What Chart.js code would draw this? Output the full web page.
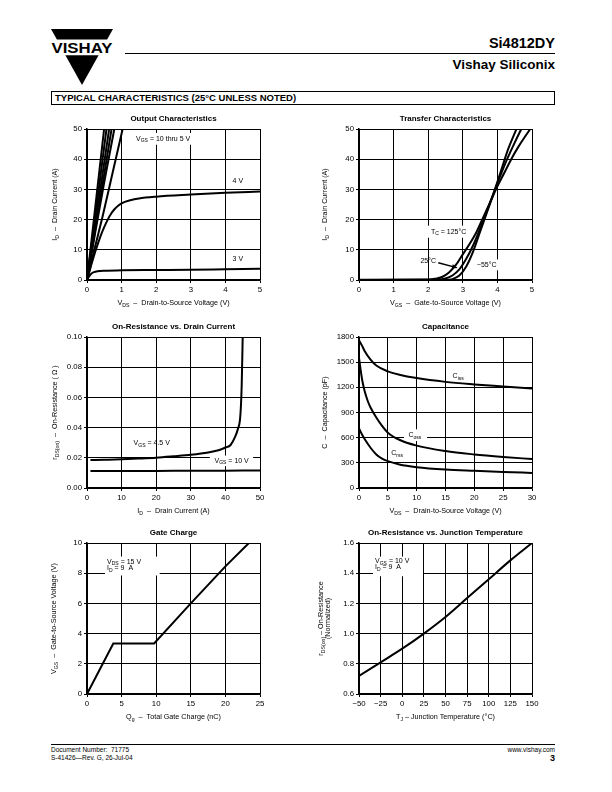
<!DOCTYPE html>
<html><head><meta charset="utf-8">
<script src="https://cdn.jsdelivr.net/npm/chart.js@4"></script>
<style>
body{margin:0;width:612px;height:792px;position:relative;background:#fff;overflow:hidden;font-family:"Liberation Sans",Arial,sans-serif;color:#000}
.abs{position:absolute}
canvas{position:absolute}
.r{position:absolute;right:57px;text-align:right;white-space:nowrap}
</style></head><body>
<svg class="abs" style="left:51px;top:29px" width="62" height="56" viewBox="0 0 62 56">
<polygon points="0,0 62,0 56.1,10.6 5.9,10.6" fill="#000"/>
<polygon points="14.4,26.2 47.6,26.2 31,56" fill="#000"/>
<text x="31" y="24" text-anchor="middle" font-family="Liberation Sans" font-weight="bold" font-size="14.5" textLength="61" lengthAdjust="spacingAndGlyphs">VISHAY</text>
</svg>
<div class="r" style="top:34px;font-weight:bold;font-size:14.5px;line-height:18px">Si4812DY</div>
<div class="abs" style="left:125px;top:53px;width:430px;height:1px;background:#000"></div>
<div class="r" style="top:57px;font-weight:bold;font-size:13.5px;line-height:16px">Vishay Siliconix</div>
<div class="abs" style="left:51px;top:91px;width:504px;height:14px;border:1px solid #000;box-sizing:border-box;font-weight:bold;font-size:9.5px;line-height:12px;padding-left:3px;white-space:nowrap">TYPICAL CHARACTERISTICS (25°C UNLESS NOTED)</div>
<div class="abs" style="left:51px;top:744px;width:504px;height:1px;background:#000"></div>
<div class="abs" style="left:51px;top:746px;font-size:6.5px;line-height:8px;white-space:nowrap">Document Number:&nbsp; 71775<br>S-41426—Rev. G, 26-Jul-04</div>
<div class="r" style="top:746px;font-size:6.5px;line-height:8px">www.vishay.com</div>
<div class="r" style="top:753px;font-size:9px;font-weight:bold;line-height:10px">3</div>
<script>
// ---------------- DATA ----------------
// Output Characteristics (VDS in V, ID in A)
const out_xticks = [0, 1, 2, 3, 4, 5];
const out_yticks = [0, 10, 20, 30, 40, 50];
const out_vds_10V = [0, 0.495]; const out_id_10V = [0, 50];
const out_vds_9V = [0, 0.563]; const out_id_9V = [0, 50];
const out_vds_8V = [0, 0.64]; const out_id_8V = [0, 50];
const out_vds_7V = [0, 0.71]; const out_id_7V = [0, 50];
const out_vds_6V = [0, 0.25, 0.5, 0.79]; const out_id_6V = [0, 16.5, 32.5, 50];
const out_vds_5V = [0, 0.2, 0.45, 0.75, 1.03]; const out_id_5V = [0, 9.5, 21, 36, 50];
const out_vds_4V = [0, 0.1, 0.2, 0.3, 0.4, 0.5, 0.6, 0.7, 0.8, 0.9, 1.0, 1.25, 1.5, 2, 3, 4, 5];
const out_id_4V = [0, 4, 8, 11.5, 14.8, 17.6, 20, 22, 23.5, 24.6, 25.4, 26.4, 27, 27.6, 28.3, 28.9, 29.3];
const out_vds_3V = [0, 0.05, 0.1, 0.15, 0.2, 0.3, 0.5, 1, 2, 3, 4, 5];
const out_id_3V = [0, 1.0, 1.8, 2.3, 2.6, 2.9, 3.1, 3.2, 3.3, 3.4, 3.55, 3.7];

// Transfer Characteristics (VGS in V, ID in A)
const tr_xticks = [0, 1, 2, 3, 4, 5];
const tr_yticks = [0, 10, 20, 30, 40, 50];
const tr_vgs_125 = [0, 2.0, 2.2, 2.4, 2.6, 2.8, 3.0, 3.2, 3.4, 3.6, 3.8, 4.0, 4.2, 4.4, 4.6, 4.8, 4.95];
const tr_id_125 = [0.1, 0.15, 0.4, 1.0, 2.5, 5, 8.5, 12, 16, 21, 26, 31, 35.5, 40, 44, 47.5, 50];
const tr_vgs_25 = [0, 2.2, 2.5, 2.7, 2.9, 3.1, 3.3, 3.5, 3.7, 3.9, 4.1, 4.3, 4.5, 4.69];
const tr_id_25 = [0, 0.05, 0.5, 1.5, 3.5, 7, 11.5, 17, 23, 29, 35, 40.5, 45.5, 50];
const tr_vgs_m55 = [0, 2.5, 2.7, 2.9, 3.1, 3.3, 3.5, 3.7, 3.9, 4.1, 4.3, 4.55];
const tr_id_m55 = [0, 0.02, 0.3, 1.5, 4.5, 9.5, 16, 22.5, 29, 36, 43, 50];

// On-Resistance vs. Drain Current (ID in A, rDS(on) in ohm)
const ron_xticks = [0, 10, 20, 30, 40, 50];
const ron_yticks = [0, 0.02, 0.04, 0.06, 0.08, 0.10];
const ron_ylabels = ['0.00', '0.02', '0.04', '0.06', '0.08', '0.10'];
const ron_id_45 = [1, 5, 10, 15, 20, 25, 30, 35, 38, 40, 41.5, 42.8, 43.6, 44.2, 44.5, 44.7, 44.85, 45.0];
const ron_r_45 = [0.0185, 0.0187, 0.019, 0.0195, 0.0201, 0.021, 0.022, 0.0235, 0.025, 0.0268, 0.0285, 0.0338, 0.039, 0.045, 0.055, 0.067, 0.083, 0.1];
const ron_id_10 = [1, 10, 20, 30, 40, 50];
const ron_r_10 = [0.0112, 0.0112, 0.0113, 0.0114, 0.0115, 0.0116];

// Capacitance (VDS in V, C in pF)
const cap_xticks = [0, 5, 10, 15, 20, 25, 30];
const cap_yticks = [0, 300, 600, 900, 1200, 1500, 1800];
const cap_vds_iss = [0, 0.5, 1, 2, 3, 5, 7, 10, 15, 20, 25, 30];
const cap_iss = [1760, 1700, 1630, 1530, 1460, 1390, 1350, 1310, 1265, 1235, 1210, 1185];
const cap_vds_oss = [0, 0.3, 0.6, 1, 1.5, 2, 3, 4, 5, 7, 10, 15, 20, 25, 30];
const cap_oss = [1550, 1400, 1270, 1150, 1040, 960, 840, 740, 660, 575, 505, 440, 400, 370, 345];
const cap_vds_rss = [0, 0.5, 1, 2, 3, 4, 5, 7, 10, 15, 20, 25, 30];
const cap_rss = [710, 640, 580, 480, 400, 350, 320, 280, 248, 220, 205, 192, 180];

// Gate Charge (Qg in nC, VGS in V)
const gc_xticks = [0, 5, 10, 15, 20, 25];
const gc_yticks = [0, 2, 4, 6, 8, 10];
const gc_qg = [0, 3.8, 9.7, 15, 20, 23.4];
const gc_vgs = [0, 3.35, 3.35, 6.0, 8.45, 10];

// On-Resistance vs. Junction Temperature (TJ in °C, normalized rDS(on))
const tj_xticks = [-50, -25, 0, 25, 50, 75, 100, 125, 150];
const tj_xlabels = ['\u221250', '\u221225', '0', '25', '50', '75', '100', '125', '150'];
const tj_yticks = [0.6, 0.8, 1.0, 1.2, 1.4, 1.6];
const tj_ylabels = ['0.6', '0.8', '1.0', '1.2', '1.4', '1.6'];
const tj_t = [-50, -25, 0, 25, 50, 75, 100, 125, 150];
const tj_rn = [0.72, 0.81, 0.9, 1.0, 1.11, 1.235, 1.36, 1.485, 1.6];

// ---------------- DRAWING ----------------
const FAM = '"Liberation Sans", Arial, sans-serif';
const DECO = {};
function pts(xs, ys) { return xs.map((x, i) => ({ x: x, y: ys[i] })); }
function parse(str) {
  const out = []; const re = /_\{([^}]*)\}/g; let last = 0, m;
  while ((m = re.exec(str))) { if (m.index > last) out.push({ t: str.slice(last, m.index) }); out.push({ t: m[1], sub: true }); last = re.lastIndex; }
  if (last < str.length) out.push({ t: str.slice(last) });
  return out;
}
function setF(ctx, size, bold) { ctx.font = (bold ? 'bold ' : '') + size + 'px ' + FAM; }
function richW(ctx, segs, size, bold) { let w = 0; for (const s of segs) { setF(ctx, s.sub ? size * 0.72 : size, bold); w += ctx.measureText(s.t).width; } return w; }
function drawRich(ctx, str, x, y, size, align, bold) {
  const segs = parse(str);
  ctx.save(); ctx.fillStyle = '#000'; ctx.textBaseline = 'middle'; ctx.textAlign = 'left';
  const w = richW(ctx, segs, size, bold);
  let cx = align === 'left' ? x : x - w / 2;
  for (const s of segs) { setF(ctx, s.sub ? size * 0.72 : size, bold); ctx.fillText(s.t, cx, s.sub ? y + size * 0.32 : y); cx += ctx.measureText(s.t).width; }
  ctx.restore();
}
const decoPlugin = {
  id: 'deco',
  beforeDatasetsDraw(chart) {
    const d = DECO[chart.canvas.id]; if (!d) return;
    const ctx = chart.ctx, xs = chart.scales.x, ys = chart.scales.y;
    ctx.save(); ctx.fillStyle = '#fff';
    for (const b of (d.boxes || [])) {
      const x1 = xs.getPixelForValue(b[0]), x2 = xs.getPixelForValue(b[2]);
      const y1 = ys.getPixelForValue(b[1]), y2 = ys.getPixelForValue(b[3]);
      ctx.fillRect(Math.min(x1, x2), Math.min(y1, y2), Math.abs(x2 - x1), Math.abs(y2 - y1));
    }
    ctx.restore();
  },
  afterDatasetsDraw(chart) {
    const d = DECO[chart.canvas.id]; if (!d) return;
    const ctx = chart.ctx, a = chart.chartArea, xs = chart.scales.x, ys = chart.scales.y;
    drawRich(ctx, d.title, (a.left + a.right) / 2, a.top - 10, 8, 'center', true);
    drawRich(ctx, d.xTitle, (a.left + a.right) / 2, a.bottom + 23, 7.2, 'center', false);
    const yl = d.yTitle;
    yl.forEach((line, i) => {
      ctx.save();
      ctx.translate(a.left - d.yOff + i * 7, (a.top + a.bottom) / 2);
      ctx.rotate(-Math.PI / 2);
      drawRich(ctx, line, 0, 0, 7.2, 'center', false);
      ctx.restore();
    });
    for (const n of (d.notes || [])) {
      drawRich(ctx, n[0], xs.getPixelForValue(n[1]), ys.getPixelForValue(n[2]), 7, n[3] || 'center', false);
    }
    for (const ar of (d.arrows || [])) {
      const x1 = xs.getPixelForValue(ar[0]), y1 = ys.getPixelForValue(ar[1]);
      const x2 = xs.getPixelForValue(ar[2]), y2 = ys.getPixelForValue(ar[3]);
      ctx.save(); ctx.strokeStyle = '#000'; ctx.fillStyle = '#000'; ctx.lineWidth = 1.4;
      ctx.beginPath(); ctx.moveTo(x1, y1); ctx.lineTo(x2, y2); ctx.stroke();
      const ang = Math.atan2(y2 - y1, x2 - x1);
      ctx.beginPath(); ctx.moveTo(x2 + 1, y2 + 0.3);
      ctx.lineTo(x2 - 5 * Math.cos(ang - 0.45), y2 - 5 * Math.sin(ang - 0.45));
      ctx.lineTo(x2 - 5 * Math.cos(ang + 0.45), y2 - 5 * Math.sin(ang + 0.45));
      ctx.closePath(); ctx.fill(); ctx.restore();
    }
  }
};
Chart.register(decoPlugin);

function build(id, area, xt, xl, yt, yl, series, deco) {
  const M = { l: 52, r: 14, t: 24, b: 34 };
  const cv = document.createElement('canvas');
  cv.id = id;
  cv.width = (area.r - area.l) + M.l + M.r;
  cv.height = (area.b - area.t) + M.t + M.b;
  cv.style.left = (area.l - M.l) + 'px';
  cv.style.top = (area.t - M.t) + 'px';
  document.body.appendChild(cv);
  DECO[id] = deco;
  const tickFont = { size: 7.8, family: FAM };
  const axis = (ticks, labels, isX) => ({
    type: 'linear', min: ticks[0], max: ticks[ticks.length - 1],
    afterBuildTicks: s => { s.ticks = ticks.map(v => ({ value: v })); },
    afterFit: s => { if (isX) s.height = M.b; else s.width = M.l; },
    ticks: { autoSkip: false, maxRotation: 0, padding: 2, color: '#000', font: tickFont,
      callback: (v, i) => labels ? labels[i] : String(ticks[i]) },
    grid: { color: '#000', lineWidth: 1, tickLength: 3 },
    border: { color: '#000', width: 1.5 }
  });
  new Chart(cv, {
    type: 'line',
    data: { datasets: series.map(s => ({ data: s, borderColor: '#000', borderWidth: 2, pointRadius: 0, fill: false, cubicInterpolationMode: deco.straight ? 'default' : 'monotone', tension: 0 })) },
    options: {
      responsive: false, animation: false, events: [],
      layout: { padding: { left: 0, right: M.r, top: M.t, bottom: 0 } },
      plugins: { legend: { display: false }, tooltip: { enabled: false }, title: { display: false } },
      scales: { x: axis(xt, xl, true), y: axis(yt, yl, false) }
    }
  });
}

build('c1', { l: 87, r: 260, t: 129, b: 280 }, out_xticks, null, out_yticks, null,
  [pts(out_vds_10V, out_id_10V), pts(out_vds_9V, out_id_9V), pts(out_vds_8V, out_id_8V), pts(out_vds_7V, out_id_7V),
   pts(out_vds_6V, out_id_6V), pts(out_vds_5V, out_id_5V), pts(out_vds_4V, out_id_4V), pts(out_vds_3V, out_id_3V)],
  { title: 'Output Characteristics', xTitle: 'V_{DS}  \u2013  Drain-to-Source Voltage (V)', yTitle: ['I_{D}  \u2013  Drain Current (A)'], yOff: 32,
    boxes: [[1.3, 48.7, 3.1, 44.8]],
    notes: [['V_{GS} = 10 thru 5 V', 2.2, 46.8], ['4 V', 4.36, 32.6], ['3 V', 4.36, 6.9]] });

build('c2', { l: 359, r: 532, t: 129, b: 280 }, tr_xticks, null, tr_yticks, null,
  [pts(tr_vgs_125, tr_id_125), pts(tr_vgs_25, tr_id_25), pts(tr_vgs_m55, tr_id_m55)],
  { title: 'Transfer Characteristics', xTitle: 'V_{GS}  \u2013  Gate-to-Source Voltage (V)', yTitle: ['I_{D}  \u2013  Drain Current (A)'], yOff: 34,
    boxes: [[1.95, 18, 3.2, 14], [3.35, 6.8, 4.1, 3.2]],
    notes: [['T_{C} = 125\u00b0C', 2.59, 16], ['25\u00b0C', 2.0, 6.4], ['\u221255\u00b0C', 3.69, 5.0]],
    arrows: [[2.29, 5.7, 2.82, 4.1]] });

build('c3', { l: 87, r: 260, t: 337, b: 488 }, ron_xticks, null, ron_yticks, ron_ylabels,
  [pts(ron_id_45, ron_r_45), pts(ron_id_10, ron_r_10)],
  { title: 'On-Resistance vs. Drain Current', xTitle: 'I_{D}  \u2013  Drain Current (A)', yTitle: ['r_{DS(on)}  \u2013  On-Resistance ( \u03a9 )'], yOff: 32,
    boxes: [[35.5, 0.0215, 48, 0.0145]],
    notes: [['V_{GS} = 4.5 V', 18.7, 0.0298], ['V_{GS} = 10 V', 41.8, 0.018]] });

build('c4', { l: 359, r: 532, t: 337, b: 488 }, cap_xticks, null, cap_yticks, null,
  [pts(cap_vds_iss, cap_iss), pts(cap_vds_oss, cap_oss), pts(cap_vds_rss, cap_rss)],
  { title: 'Capacitance', xTitle: 'V_{DS}  \u2013  Drain-to-Source Voltage (V)', yTitle: ['C  \u2013  Capacitance (pF)'], yOff: 34,
    boxes: [[7.8, 700, 11.8, 560], [5.3, 470, 8.0, 360]],
    notes: [['C_{iss}', 17.2, 1335], ['C_{oss}', 9.7, 632], ['C_{rss}', 6.6, 417]] });

build('c5', { l: 87, r: 260, t: 543, b: 694 }, gc_xticks, null, gc_yticks, null,
  [pts(gc_qg, gc_vgs)],
  { straight: true, title: 'Gate Charge', xTitle: 'Q_{g}  \u2013  Total Gate Charge (nC)', yTitle: ['V_{GS}  \u2013  Gate-to-Source Voltage (V)'], yOff: 33,
    boxes: [[2.6, 9.1, 10.5, 7.85]],
    notes: [['V_{DS} = 15 V', 2.9, 8.76, 'left'], ['I_{D} = 9  A', 2.9, 8.34, 'left']] });

build('c6', { l: 359, r: 532, t: 543, b: 694 }, tj_xticks, tj_xlabels, tj_yticks, tj_ylabels,
  [pts(tj_t, tj_rn)],
  { title: 'On-Resistance vs. Junction Temperature', xTitle: 'T_{J} \u2013 Junction Temperature (\u00b0C)', yTitle: ['r_{DS(on)} \u2013 On-Resistance', '(Normalized)'], yOff: 38,
    boxes: [[-33.8, 1.51, 24, 1.38]],
    notes: [['V_{GS} = 10 V', -31.5, 1.48, 'left'], ['I_{D} = 9  A', -31.5, 1.44, 'left']] });
</script>
</body></html>
